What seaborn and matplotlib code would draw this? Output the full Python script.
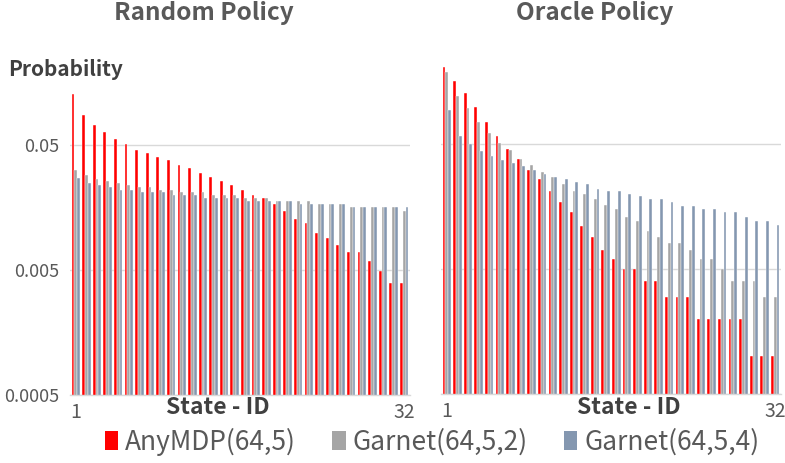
import numpy as np
import pandas as pd
import matplotlib
matplotlib.use("Agg")
import matplotlib.pyplot as plt
import seaborn as sns
from matplotlib.patches import Patch

states = list(range(1, 33))
series_names = ["AnyMDP(64,5)", "Garnet(64,5,2)", "Garnet(64,5,4)"]
colors = ["#FF0000", "#A5A5A5", "#8497B0"]

random_anymdp = [0.127, 0.0863, 0.0714, 0.0628, 0.0555, 0.0503, 0.0456, 0.0426, 0.0396, 0.0377,
                 0.0346, 0.0327, 0.0297, 0.0277, 0.0258, 0.0238, 0.0218, 0.0198, 0.0188, 0.0169,
                 0.0148, 0.0128, 0.0119, 0.0099, 0.0089, 0.0079, 0.0069, 0.0069, 0.0059, 0.0049,
                 0.0039, 0.0039]
random_garnet2 = [0.0315, 0.0286, 0.0267, 0.0258, 0.0248, 0.0238, 0.0228, 0.0228, 0.0218, 0.0218,
                  0.0208, 0.0208, 0.0208, 0.0199, 0.0199, 0.0199, 0.0188, 0.0188, 0.0188, 0.0178,
                  0.0178, 0.0178, 0.0178, 0.0169, 0.0169, 0.0169, 0.0160, 0.0160, 0.0160, 0.0160,
                  0.0160, 0.0148]
random_garnet4 = [0.0269, 0.0248, 0.0238, 0.0228, 0.0218, 0.0218, 0.0208, 0.0208, 0.0208, 0.0199,
                  0.0199, 0.0199, 0.0188, 0.0188, 0.0188, 0.0188, 0.0178, 0.0178, 0.0178, 0.0178,
                  0.0178, 0.0169, 0.0169, 0.0169, 0.0169, 0.0169, 0.0160, 0.0160, 0.0160, 0.0160,
                  0.0160, 0.0160]

oracle_anymdp = [0.203, 0.157, 0.126, 0.0986, 0.0746, 0.0575, 0.0457, 0.0376, 0.0310, 0.0260,
                 0.0210, 0.0170, 0.0141, 0.0110, 0.0090, 0.0071, 0.0060, 0.0050, 0.0050, 0.0040,
                 0.0040, 0.0030, 0.0030, 0.0030, 0.0020, 0.0020, 0.0020, 0.0020, 0.0020, 0.0010,
                 0.0010, 0.0010]
oracle_garnet2 = [0.187, 0.120, 0.0957, 0.0746, 0.0607, 0.0506, 0.0446, 0.0376, 0.0337, 0.0299,
                  0.0270, 0.0239, 0.0210, 0.0199, 0.0180, 0.0161, 0.0150, 0.0130, 0.0120, 0.0100,
                  0.0090, 0.0081, 0.0081, 0.0071, 0.0060, 0.0060, 0.0050, 0.0040, 0.0040, 0.0040,
                  0.0030, 0.0030]
oracle_garnet4 = [0.0922, 0.0575, 0.0497, 0.0438, 0.0397, 0.0371, 0.0348, 0.0329, 0.0310, 0.0288,
                  0.0270, 0.0260, 0.0249, 0.0239, 0.0219, 0.0210, 0.0210, 0.0199, 0.0190, 0.0180,
                  0.0180, 0.0170, 0.0160, 0.0160, 0.0150, 0.0150, 0.0141, 0.0141, 0.0130, 0.0120,
                  0.0120, 0.0111]

y_ticks = [0.0005, 0.005, 0.05]
y_ticklabels = ["0.0005", "0.005", "0.05"]
x_ticklabels = ["1", "32"]
titles = ["Random Policy", "Oracle Policy"]


def make_df(a, b, c):
    rows = []
    for name, vals in zip(series_names, [a, b, c]):
        for s, v in zip(states, vals):
            rows.append({"state": s, "series": name, "value": v})
    return pd.DataFrame(rows)


sns.set_theme(style="white")
plt.rcParams["font.family"] = ["Noto Sans CJK SC", "DejaVu Sans"]

W, H = 785, 463
fig = plt.figure(figsize=(W / 100, H / 100), dpi=100)

def px_axes(x0, y_top, x1, y_bot):
    return fig.add_axes([x0 / W, 1 - y_bot / H, (x1 - x0) / W, (y_bot - y_top) / H])

ax1 = px_axes(70, 55, 410, 395)
ax2 = px_axes(441, 54, 781, 394)

dfs = [make_df(random_anymdp, random_garnet2, random_garnet4),
       make_df(oracle_anymdp, oracle_garnet2, oracle_garnet4)]

txt_dark = "#404040"
txt_gray = "#595959"
xlabel_centers = [218, 629]

for i, (ax, df) in enumerate(zip([ax1, ax2], dfs)):
    sns.barplot(data=df, x="state", y="value", hue="series", palette=colors,
                hue_order=series_names, ax=ax, width=0.8, legend=False,
                edgecolor="white", linewidth=0.3, saturation=1)
    ax.set_yscale("log")
    ax.set_ylim(0.0005, 0.26)
    ax.set_xlim(-0.55, 31.55)
    ax.set_yticks(y_ticks)
    ax.yaxis.set_minor_locator(matplotlib.ticker.NullLocator())
    ax.yaxis.grid(True, color="#D9D9D9", linewidth=1)
    ax.set_axisbelow(True)
    ax.set_xticks([0, 31])
    ax.set_xticklabels(x_ticklabels, fontsize=14, color=txt_gray)
    ax.tick_params(axis="x", length=0, pad=5)
    ax.tick_params(axis="y", length=0, pad=8)
    if i == 0:
        ax.set_yticklabels(y_ticklabels, fontsize=13, color=txt_gray)
    else:
        ax.set_yticklabels([])
    for sp in ["top", "right", "left"]:
        ax.spines[sp].set_visible(False)
    ax.spines["bottom"].set_color("#D9D9D9")
    ax.spines["bottom"].set_linewidth(1)
    ax.set_xlabel("")
    ax.set_ylabel("")
    fig.text(xlabel_centers[i] / W, 1 - 408 / H, "State - ID", ha="center", va="center",
             fontsize=16.5, fontweight="bold", color=txt_dark)

fig.text(204 / W, 1 - 13 / H, titles[0], ha="center", va="center", fontsize=17.5,
         fontweight="bold", color=txt_gray)
fig.text(595 / W, 1 - 13 / H, titles[1], ha="center", va="center", fontsize=17.5,
         fontweight="bold", color=txt_gray)
fig.text(8 / W, 1 - 69 / H, "Probability", ha="left", va="center", fontsize=15,
         fontweight="bold", color=txt_dark)

handles = [Patch(facecolor=c, edgecolor="none") for c in colors]
fig.legend(handles, series_names, loc="center", bbox_to_anchor=(432 / W, 1 - 442 / H),
           ncol=3, frameon=False, fontsize=19, handlelength=0.5, handleheight=0.75,
           handletextpad=0.25, columnspacing=1.4, labelcolor=txt_gray)

fig.savefig("out.png", dpi=100)
